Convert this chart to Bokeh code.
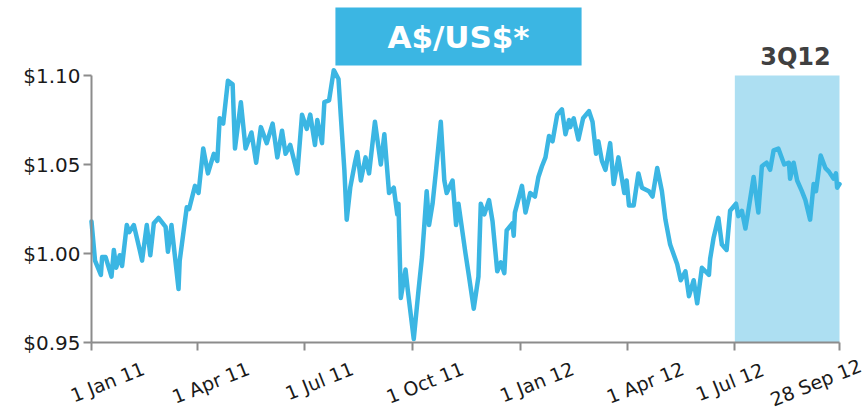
from bokeh.plotting import figure
from bokeh.models import (FixedTicker, BoxAnnotation, Label, Range1d, NumeralTickFormatter,
                          CustomJSTickFormatter, LinearAxis)
from bokeh.embed import file_html
from bokeh.resources import INLINE

# ---- data (days since 1 Jan 2011, A$ in US$) ----
days = [0, 3, 8, 9, 12, 17, 19, 21, 24, 26, 30, 32, 36, 41, 43, 47, 50, 53, 57, 63,
        65, 68, 74, 75, 81, 83, 88, 91, 95, 99, 104, 107, 109, 112, 116, 120, 122, 127, 131, 136,
        140, 144, 149, 154, 158, 162, 165, 169, 175, 179, 183, 186, 190, 192, 196, 198, 202, 206, 210, 212,
        215, 217, 220, 224, 226, 229, 233, 236, 241, 246, 249, 253, 257, 260, 261, 263, 267, 269, 274, 278,
        281, 283, 285, 287, 290, 293, 297, 300, 302, 307, 310, 312, 318, 321, 325, 329, 331, 334, 338, 341,
        345, 348, 351, 353, 358, 359, 360, 366, 369, 373, 377, 380, 383, 386, 389, 392, 396, 400, 403, 406,
        407, 410, 414, 418, 423, 426, 429, 431, 434, 437, 441, 444, 448, 453, 455, 457, 461, 465, 468, 474,
        477, 481, 485, 488, 492, 498, 501, 505, 508, 512, 515, 519, 525, 526, 529, 533, 536, 540, 543, 548,
        550, 553, 556, 558, 563, 567, 570, 574, 577, 580, 584, 589, 593, 594, 597, 600, 604, 607, 611, 614,
        616, 620, 624, 627, 631, 633, 634, 636]
rate = [1.018, 0.996, 0.988, 0.998, 0.998, 0.987, 1.002, 0.992, 0.999, 0.993, 1.016, 1.012, 1.016, 1.002, 0.996, 1.016, 0.999, 1.017, 1.020, 1.015,
        1.001, 1.016, 0.980, 0.996, 1.026, 1.025, 1.038, 1.034, 1.059, 1.045, 1.056, 1.052, 1.076, 1.073, 1.097, 1.095, 1.059, 1.085, 1.059, 1.068,
        1.051, 1.071, 1.062, 1.073, 1.054, 1.069, 1.056, 1.061, 1.045, 1.078, 1.070, 1.078, 1.061, 1.075, 1.062, 1.085, 1.086, 1.103, 1.098, 1.077,
        1.047, 1.019, 1.037, 1.051, 1.057, 1.041, 1.054, 1.045, 1.074, 1.050, 1.067, 1.034, 1.037, 1.022, 1.028, 0.975, 0.991, 0.979, 0.952, 0.979,
        0.998, 1.016, 1.035, 1.016, 1.028, 1.047, 1.074, 1.041, 1.034, 1.041, 1.016, 1.028, 1.000, 0.987, 0.969, 0.987, 1.028, 1.022, 1.030, 1.018,
        0.990, 0.995, 0.989, 1.013, 1.017, 1.010, 1.023, 1.038, 1.023, 1.034, 1.032, 1.043, 1.049, 1.054, 1.066, 1.063, 1.078, 1.081, 1.067, 1.075,
        1.071, 1.076, 1.064, 1.076, 1.080, 1.074, 1.056, 1.063, 1.052, 1.047, 1.062, 1.039, 1.054, 1.034, 1.041, 1.027, 1.027, 1.045, 1.037, 1.035,
        1.032, 1.048, 1.035, 1.019, 1.005, 0.994, 0.985, 0.990, 0.976, 0.985, 0.972, 0.992, 0.988, 0.997, 1.009, 1.020, 1.005, 1.002, 1.024, 1.028,
        1.021, 1.024, 1.014, 1.022, 1.043, 1.023, 1.049, 1.051, 1.047, 1.058, 1.059, 1.050, 1.051, 1.042, 1.051, 1.041, 1.035, 1.030, 1.019, 1.039,
        1.035, 1.055, 1.048, 1.046, 1.042, 1.045, 1.037, 1.039]

tick_days = [0, 90, 181, 273, 365, 456, 547, 636]
tick_labels = ["1 Jan 11", "1 Apr 11", "1 Jul 11", "1 Oct 11", "1 Jan 12", "1 Apr 12", "1 Jul 12", "28 Sep 12"]
y_ticks = [0.95, 1.00, 1.05, 1.10]
x_start, x_end = 0, 636
y_min, y_max = 0.95, 1.10
quarter_start, quarter_end = 547, 636
title_text = "A$/US$*"
quarter_text = "3Q12"

BLUE = "#3BB6E3"
SHADE = "#ADDFF2"
AXIS = "#8C8C8C"

# layout: plot area spans pixels 91..839 horizontally and 75..342 vertically of an 866x412 canvas
W, H = 866, 412
PL, PR, PT, PB = 91, 839, 75, 342
xs = (x_end - x_start) / (PR - PL)
ys = (y_max - y_min) / (PB - PT)
x_range = Range1d(x_start - PL * xs, x_end + (W - PR) * xs)
y_range = Range1d(y_min - (H - PB) * ys, y_max + PT * ys)

p = figure(width=W, height=H, min_border=0, x_range=x_range, y_range=y_range,
           x_axis_type=None, y_axis_type=None,
           output_backend="svg", toolbar_location=None,
           background_fill_color="white", border_fill_color="white")
p.outline_line_color = None

# shaded quarter
p.add_layout(BoxAnnotation(left=quarter_start, right=quarter_end, bottom=y_min, top=y_max,
                           fill_color=SHADE, fill_alpha=1.0, line_color=None, level="underlay"))

p.line(days, rate, line_color=BLUE, line_width=4.5, line_join="round", line_cap="round")

xaxis = LinearAxis(fixed_location=y_min, bounds=(x_start, x_end), ticker=FixedTicker(ticks=tick_days),
                   formatter=CustomJSTickFormatter(code="return ''"))
yaxis = LinearAxis(fixed_location=x_start, bounds=(y_min, y_max), ticker=FixedTicker(ticks=y_ticks),
                   formatter=NumeralTickFormatter(format="$0.00"))
for ax in (xaxis, yaxis):
    ax.axis_line_color = AXIS
    ax.axis_line_width = 2
    ax.major_tick_line_color = AXIS
    ax.major_tick_line_width = 2
    ax.major_tick_out = 8
    ax.major_tick_in = 0
    ax.minor_tick_out = 0
    ax.minor_tick_in = 0
    ax.minor_tick_line_color = None
xaxis.major_label_text_font_size = "1px"
yaxis.major_label_text_font = "DejaVu Sans"
yaxis.major_label_text_font_size = "20px"
yaxis.major_label_text_color = "#1a1a1a"
yaxis.major_label_standoff = 3
p.add_layout(xaxis, "below")
p.add_layout(yaxis, "left")

# rotated date labels (anchor = right end of each label)
x_offsets = [52, 51, 48, 50, 52, 55, 28, 21]
label_y = [45, 45, 45, 45, 45, 45, 44, 48]
for d, lab, dx, ly in zip(tick_days, tick_labels, x_offsets, label_y):
    p.add_layout(Label(x=d, y=ly, x_units="data", y_units="screen", text=lab, x_offset=dx,
                       angle=0.38, angle_units="rad", text_align="right", text_baseline="middle",
                       text_font="DejaVu Sans", text_font_size="19px", text_color="#1a1a1a"))

# title box
p.add_layout(Label(x=458, y=376, x_units="screen", y_units="screen", text=title_text,
                   text_align="center", text_baseline="middle", text_font="DejaVu Sans",
                   text_font_style="bold", text_font_size="31px", text_color="white",
                   background_fill_color=BLUE, background_fill_alpha=1.0, padding=(52, 11)))

# quarter label
p.add_layout(Label(x=795, y=356, x_units="screen", y_units="screen", text=quarter_text,
                   text_align="center", text_baseline="middle", text_font="DejaVu Sans",
                   text_font_style="bold", text_font_size="24px", text_color="#404040"))

open("out.html", "w").write(file_html(p, INLINE))
